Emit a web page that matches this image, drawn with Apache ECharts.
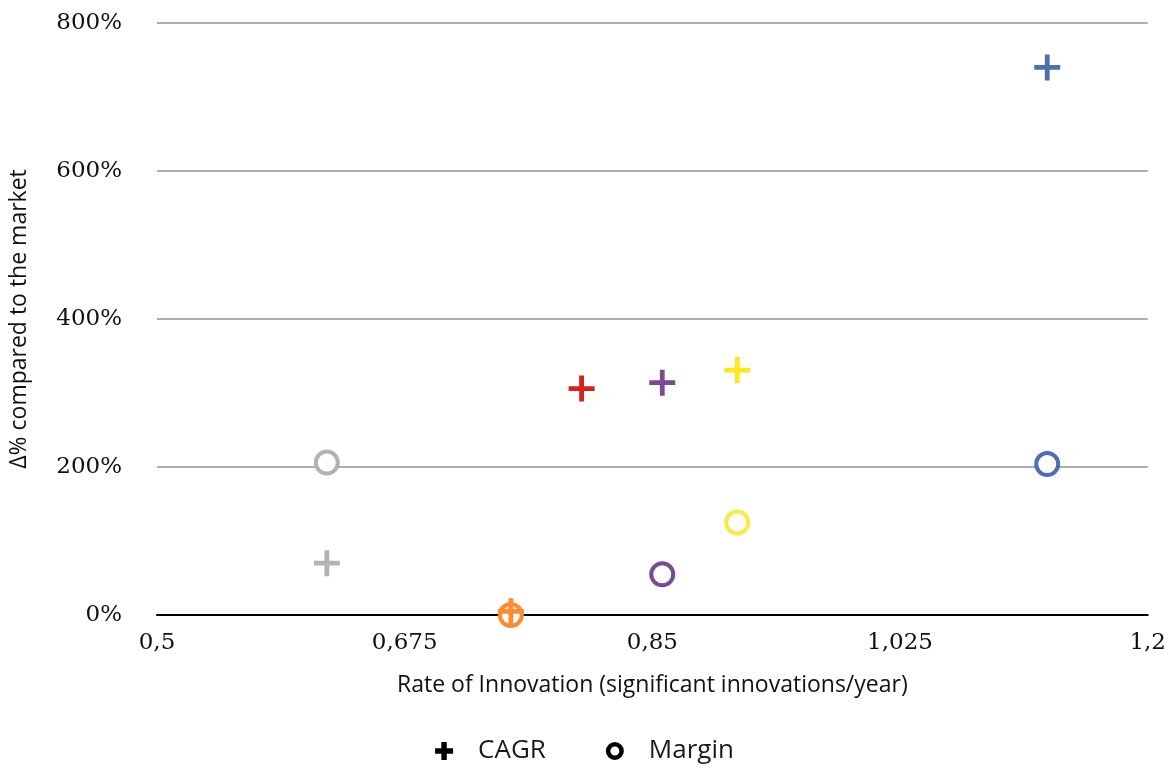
<!DOCTYPE html>
<html>
<head>
<meta charset="utf-8">
<script src="https://cdn.jsdelivr.net/npm/echarts@6/dist/echarts.min.js"></script>
<style>
  html, body { margin: 0; padding: 0; background: #fff; }
  #chart { width: 1169px; height: 769px; }
</style>
</head>
<body>
<div id="chart"></div>
<script>
// Innovation rate (significant innovations / year) for each company
const rate   = [0.62, 0.75, 0.80, 0.857, 0.91, 1.129];
// Difference to the market, in percent
const cagr   = [70, 5, 306, 314, 331, 740];
const margin = [206, 0, null, 55, 125, 204];
// One colour per company
const crossColors  = ['#b3b3b3', '#fd8b30', '#d7211a', '#7b4a8f', '#ffe81a', '#4e6fae'];
const circleColors = ['#b3b3b3', '#fd8b30', '#d7211a', '#7b4a8f', '#fde84a', '#4e6fae'];

const xTicks = { min: 0.5, max: 1.2, step: 0.175 };
const yTicks = { min: 0, max: 800, step: 200 };

const crossPath = 'path://M11,0h5v11h11v5h-11v11h-5v-11h-11v-5h11z';
// Bolder glyphs for the legend keys
const legendCross = 'path://M7,0h6v7h7v6h-7v7h-6v-7h-7v-6h7z';
const legendRing = 'path://M8.5,0A8.5,8.5,0,1,1,8.5,17A8.5,8.5,0,1,1,8.5,0ZM8.5,4.3A4.2,4.2,0,1,0,8.5,12.7A4.2,4.2,0,1,0,8.5,4.3Z';
const sansFont = 'Open Sans';
const tickFont = 'DejaVu Serif';

const cagrData = rate.map((r, i) => ({
  value: [r, cagr[i]],
  itemStyle: { color: crossColors[i], opacity: 1 }
}));
const marginData = rate
  .map((r, i) => margin[i] == null ? null : ({
    value: [r, margin[i]],
    itemStyle: { borderColor: circleColors[i], color: '#fff', opacity: 1 }
  }))
  .filter(d => d !== null);

const chart = echarts.init(document.getElementById('chart'));
chart.setOption({
  animation: false,
  backgroundColor: '#fff',
  grid: { left: 157, right: 21, top: 23, bottom: 154 },
  legend: {
    bottom: 0,
    left: 'center',
    itemWidth: 18,
    itemHeight: 18,
    itemGap: 60,
    textStyle: { fontFamily: sansFont, fontSize: 26, color: '#1a1a1a', padding: [0, 0, 0, 20] },
    data: [
      { name: 'CAGR', icon: legendCross, itemStyle: { color: '#000', borderWidth: 0, opacity: 1 } },
      { name: 'Margin', icon: legendRing, itemStyle: { color: '#000', borderWidth: 0, opacity: 1 } }
    ]
  },
  xAxis: {
    type: 'value',
    min: xTicks.min,
    max: xTicks.max,
    interval: xTicks.step,
    name: 'Rate of Innovation (significant innovations/year)',
    nameLocation: 'middle',
    nameGap: 59,
    nameTextStyle: { fontFamily: sansFont, fontSize: 23, color: '#111' },
    axisLine: { show: true, onZero: true, lineStyle: { color: '#000', width: 2 } },
    axisTick: { show: false },
    splitLine: { show: false },
    axisLabel: {
      margin: 17,
      fontFamily: tickFont,
      fontSize: 23,
      color: '#111',
      formatter: v => String(+v.toFixed(3)).replace('.', ',')
    }
  },
  yAxis: {
    type: 'value',
    min: yTicks.min,
    max: yTicks.max,
    interval: yTicks.step,
    name: 'Δ% compared to the market',
    nameLocation: 'middle',
    nameGap: 126,
    nameTextStyle: { fontFamily: sansFont, fontSize: 23, color: '#111' },
    axisLine: { show: false },
    axisTick: { show: false },
    splitLine: { lineStyle: { color: '#adadad', width: 2 } },
    axisLabel: {
      margin: 35,
      fontFamily: tickFont,
      fontSize: 23,
      color: '#111',
      formatter: v => v + '%'
    }
  },
  series: [
    {
      name: 'Margin',
      type: 'scatter',
      symbol: 'circle',
      symbolSize: 22,
      itemStyle: { color: '#fff', borderColor: '#000', borderWidth: 4, opacity: 1 },
      data: marginData,
      z: 2
    },
    {
      name: 'CAGR',
      type: 'scatter',
      symbol: crossPath,
      symbolSize: 26,
      itemStyle: { color: '#000', opacity: 1 },
      data: cagrData,
      z: 3
    }
  ]
});
</script>
</body>
</html>
